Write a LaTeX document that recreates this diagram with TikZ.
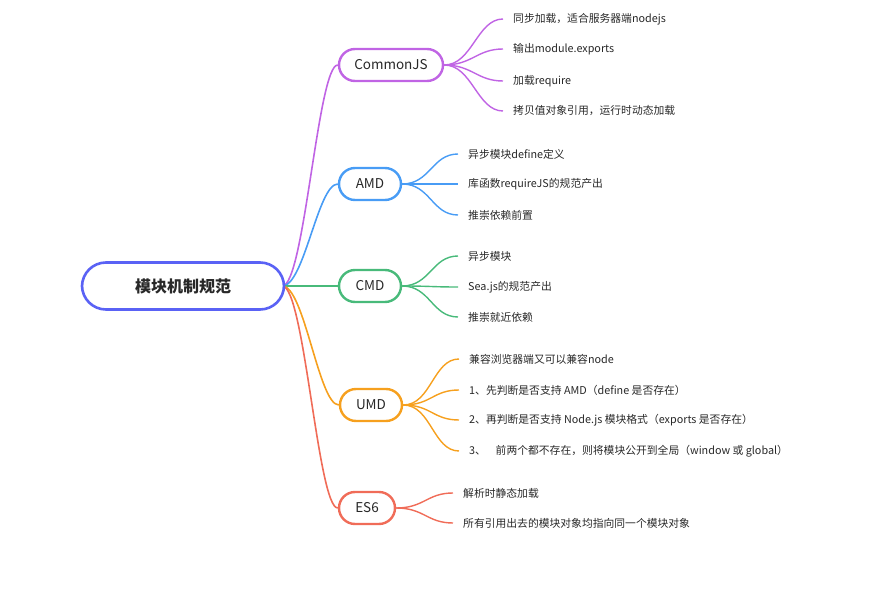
\documentclass[tikz,border=0pt]{standalone}
\usepackage{fontspec}
\setmainfont{Noto Sans CJK SC}
\usetikzlibrary{backgrounds}
\definecolor{rootc}{RGB}{90,98,245}
\definecolor{cjsc}{RGB}{192,100,228}
\definecolor{amdc}{RGB}{72,156,245}
\definecolor{cmdc}{RGB}{72,186,122}
\definecolor{umdc}{RGB}{246,160,30}
\definecolor{es6c}{RGB}{240,108,88}
\definecolor{txt}{RGB}{40,40,40}
\tikzset{
  rootbox/.style={draw=rootc, line width=2.6pt, fill=white, rounded corners=24pt, minimum width=202pt, minimum height=47pt, font=\fontsize{16}{18}\selectfont\bfseries, text=txt},
  branchbox/.style={draw=#1, line width=2.4pt, fill=white, rounded corners=16pt, minimum height=32pt, inner xsep=12pt, font=\fontsize{13.5}{15}\selectfont, text=txt},
  leaf/.style={anchor=west, inner xsep=10pt, inner ysep=2pt, font=\fontsize{10.8}{12}\selectfont, text=txt},
  trunk/.style={draw=#1, line width=1.6pt},
  twig/.style={draw=#1, line width=1.4pt},
}
\begin{document}
\begin{tikzpicture}[x=1pt,y=-1pt]
\useasboundingbox (0,0) rectangle (875,612);
% root
\node[rootbox] (root) at (183,286) {模块机制规范};
% branches
\node[branchbox=cjsc, minimum width=104pt] (cjs) at (391,65) {CommonJS};
\node[branchbox=amdc, minimum width=62pt] (amd) at (370,184) {AMD};
\node[branchbox=cmdc, minimum width=62pt] (cmd) at (370,286) {CMD};
\node[branchbox=umdc, minimum width=62pt] (umd) at (371,405) {UMD};
\node[branchbox=es6c, minimum width=56pt] (es6) at (367,508) {ES6};
% leaves
\node[leaf] (c1) at (503,19) {同步加载，适合服务器端nodejs};
\node[leaf] (c2) at (503,49) {输出module.exports};
\node[leaf] (c3) at (503,81) {加载require};
\node[leaf] (c4) at (503,111) {拷贝值对象引用，运行时动态加载};
\node[leaf] (a1) at (458,154) {异步模块define定义};
\node[leaf] (a2) at (458,184) {库函数requireJS的规范产出};
\node[leaf] (a3) at (458,215) {推崇依赖前置};
\node[leaf] (m1) at (458,256) {异步模块};
\node[leaf] (m2) at (458,287) {Sea.js的规范产出};
\node[leaf] (m3) at (458,317) {推崇就近依赖};
\node[leaf] (u1) at (459,359) {兼容浏览器端又可以兼容node};
\node[leaf] (u2) at (459,390) {1、先判断是否支持 AMD（define 是否存在）};
\node[leaf] (u3) at (459,420) {2、再判断是否支持 Node.js 模块格式（exports 是否存在）};
\node[leaf] (u4) at (459,451) {3、\hspace{0.9em}前两个都不存在，则将模块公开到全局（window 或 global）};
\node[leaf] (e1) at (453,493) {解析时静态加载};
\node[leaf] (e2) at (453,523) {所有引用出去的模块对象均指向同一个模块对象};
\begin{scope}[on background layer]
% trunks
\path[trunk=cjsc] ([xshift=-3pt]root.east) .. controls +(22pt,0) and +(-20pt,0) .. (cjs.west);
\path[trunk=amdc] ([xshift=-3pt]root.east) .. controls +(22pt,0) and +(-20pt,0) .. (amd.west);
\path[trunk=cmdc] ([xshift=-3pt]root.east) -- (cmd.west);
\path[trunk=umdc] ([xshift=-3pt]root.east) .. controls +(22pt,0) and +(-20pt,0) .. (umd.west);
\path[trunk=es6c] ([xshift=-3pt]root.east) .. controls +(22pt,0) and +(-20pt,0) .. (es6.west);
% twigs
\foreach \p/\c/\col in {cjs/c1/cjsc,cjs/c2/cjsc,cjs/c3/cjsc,cjs/c4/cjsc,
  amd/a1/amdc,amd/a2/amdc,amd/a3/amdc,
  cmd/m1/cmdc,cmd/m2/cmdc,cmd/m3/cmdc,
  umd/u1/umdc,umd/u2/umdc,umd/u3/umdc,umd/u4/umdc,
  es6/e1/es6c,es6/e2/es6c}
  \path[twig=\col] (\p.east) .. controls +(28pt,0) and +(-26pt,0) .. (\c.west);
\end{scope}
\end{tikzpicture}
\end{document}
